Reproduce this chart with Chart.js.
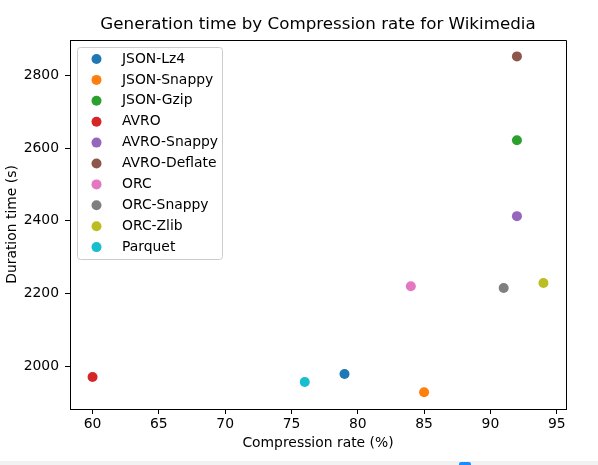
<!DOCTYPE html>
<html>
<head>
<meta charset="utf-8">
<script src="https://cdn.jsdelivr.net/npm/chart.js@4"></script>
<style>
  html, body { margin: 0; padding: 0; background: #fff; }
  #wrap { position: relative; width: 598px; height: 465px; overflow: hidden; }
  #strip { position: absolute; left: 0; top: 461px; width: 598px; height: 4px; background: #f2f2f2; }
  #dot { position: absolute; left: 459px; top: 462px; width: 12px; height: 6px; background: #1a8cff; border-radius: 2px; }
</style>
</head>
<body>
<div id="wrap">
  <canvas id="grafico" width="598" height="465"></canvas>
  <div id="strip"></div>
  <div id="dot"></div>
</div>
<script>
const formats = ['JSON-Lz4', 'JSON-Snappy', 'JSON-Gzip', 'AVRO', 'AVRO-Snappy',
                 'AVRO-Deflate', 'ORC', 'ORC-Snappy', 'ORC-Zlib', 'Parquet'];
const compressionRate = [79, 85, 92, 60, 92, 92, 84, 91, 94, 76];
const durationTime = [1978, 1928, 2622, 1970, 2413, 2853, 2220, 2215, 2229, 1956];
const colors = ['#1f77b4', '#ff7f0e', '#2ca02c', '#d62728', '#9467bd',
                '#8c564b', '#e377c2', '#7f7f7f', '#bcbd22', '#17becf'];
const xTicks = [60, 65, 70, 75, 80, 85, 90, 95];
const yTicks = [2000, 2200, 2400, 2600, 2800];

const FONT = 'DejaVu Sans';

// frame, title and legend drawn the matplotlib way
const extras = {
  id: 'extras',
  afterDatasetsDraw(chart) {
    const ctx = chart.ctx;
    const a = chart.chartArea;
    ctx.save();
    ctx.strokeStyle = '#000';
    ctx.lineWidth = 1;
    ctx.beginPath();
    ctx.moveTo(Math.round(a.left) + 0.5, Math.round(a.top) + 0.5);
    ctx.lineTo(Math.round(a.right) + 0.5, Math.round(a.top) + 0.5);
    ctx.lineTo(Math.round(a.right) + 0.5, Math.round(a.bottom) + 0.5);
    ctx.stroke();

    ctx.fillStyle = '#000';
    ctx.font = '16.7px "' + FONT + '"';
    ctx.textAlign = 'center';
    ctx.textBaseline = 'middle';
    ctx.fillText('Generation time by Compression rate for Wikimedia', (a.left + a.right) / 2, 25);

    // legend
    const bx = 77.5, by = 47.5, bw = 145, bh = 212, r = 3;
    ctx.beginPath();
    ctx.roundRect(bx, by, bw, bh, r);
    ctx.fillStyle = 'rgba(255,255,255,0.8)';
    ctx.fill();
    ctx.strokeStyle = '#cccccc';
    ctx.stroke();
    ctx.font = '13.9px "' + FONT + '"';
    ctx.textAlign = 'left';
    chart.data.datasets.forEach((ds, i) => {
      const y = 59 + i * 20.9;
      ctx.beginPath();
      ctx.arc(96.5, y, 5, 0, Math.PI * 2);
      ctx.fillStyle = ds.backgroundColor;
      ctx.fill();
      ctx.fillStyle = '#000';
      ctx.fillText(ds.label, 122, y);
    });
    ctx.restore();
  }
};

new Chart(document.getElementById('grafico'), {
  type: 'scatter',
  data: {
    datasets: formats.map((name, i) => ({
      label: name,
      data: [{ x: compressionRate[i], y: durationTime[i] }],
      backgroundColor: colors[i],
      borderColor: colors[i],
      pointRadius: 5,
      pointBorderWidth: 0
    }))
  },
  options: {
    responsive: false,
    animation: false,
    layout: { padding: { top: 40, right: 32, left: 0, bottom: 0 } },
    plugins: {
      legend: { display: false },
      title: { display: false },
      tooltip: { enabled: false }
    },
    scales: {
      x: {
        type: 'linear',
        min: 58.3,
        max: 95.7,
        afterBuildTicks: s => { s.ticks = xTicks.map(v => ({ value: v })); },
        afterFit: s => { s.height = 56; },
        grid: { drawOnChartArea: false, drawTicks: true, tickLength: 5, color: '#000' },
        border: { display: true, color: '#000', width: 1 },
        ticks: { color: '#000', padding: 2, maxRotation: 0, callback: v => String(v),
                 font: { family: FONT, size: 13.9 } },
        title: { display: true, text: 'Compression rate (%)', color: '#000',
                 padding: { top: 4, bottom: 13 }, font: { family: FONT, size: 13.9 } }
      },
      y: {
        type: 'linear',
        min: 1881.8,
        max: 2898.2,
        afterBuildTicks: s => { s.ticks = yTicks.map(v => ({ value: v })); },
        afterFit: s => { s.width = 70; },
        grid: { drawOnChartArea: false, drawTicks: true, tickLength: 5, color: '#000' },
        border: { display: true, color: '#000', width: 1 },
        ticks: { color: '#000', padding: 6, callback: v => String(v),
                 font: { family: FONT, size: 13.9 } },
        title: { display: true, text: 'Duration time (s)', color: '#000',
                 padding: { top: 4, bottom: 4 }, font: { family: FONT, size: 13.9 } }
      }
    }
  },
  plugins: [extras]
});
</script>
</body>
</html>
